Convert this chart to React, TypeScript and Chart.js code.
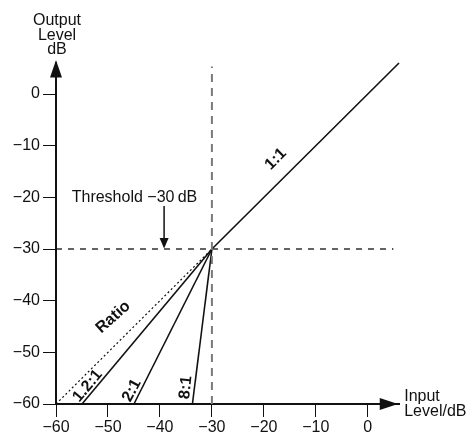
import React, { useEffect, useRef } from 'react';
import { Chart, registerables } from 'chart.js';

Chart.register(...registerables);

// ---- data ----
const inputTicks = [-60, -50, -40, -30, -20, -10, 0];
const outputTicks = [-60, -50, -40, -30, -20, -10, 0];
const axisMin = -60;
const axisMax = 6;
const thresholdDb = -30;
const unityInput = [-30, 6];
const unityOutput = [-30, 6];
const belowInput = [-60, -30];
const belowOutput = [-60, -30];
const ratioLabels = ['1.2:1', '2:1', '8:1'];
const ratioStartInput = [-55, -45, -33.75];
const ratioStartOutput = [-60, -60, -60];
const guideEnd = [4.9, 5.3];

const FONT = '"Liberation Sans", Arial, Helvetica, sans-serif';

function fmt(v: number): string {
  return v < 0 ? '\u2212' + Math.abs(v) : String(v);
}

const annotationPlugin = {
  id: 'annot',
  afterDraw(chart: any) {
    const ctx = chart.ctx as CanvasRenderingContext2D;
    const xs = chart.scales.x;
    const ys = chart.scales.y;
    const px = (v: number) => xs.getPixelForValue(v);
    const py = (v: number) => ys.getPixelForValue(v);
    ctx.save();
    ctx.fillStyle = '#111';
    ctx.strokeStyle = '#111';

    // axis arrowheads
    const ax0 = px(axisMin);
    const ay0 = py(axisMin);
    ctx.beginPath();
    ctx.moveTo(ax0, py(6.6));
    ctx.lineTo(ax0 - 6, py(3.2));
    ctx.lineTo(ax0 + 6, py(3.2));
    ctx.closePath();
    ctx.fill();
    ctx.beginPath();
    ctx.moveTo(px(5.8), ay0);
    ctx.lineTo(px(2.3), ay0 - 6);
    ctx.lineTo(px(2.3), ay0 + 6);
    ctx.closePath();
    ctx.fill();

    // axis titles
    ctx.font = `16px ${FONT}`;
    ctx.textAlign = 'center';
    ctx.textBaseline = 'alphabetic';
    ctx.fillText('Output', ax0 + 1, 25);
    ctx.fillText('Level', ax0 + 1, 39.5);
    ctx.fillText('dB', ax0 + 1, 53.5);
    ctx.textAlign = 'left';
    ctx.fillText('Input', px(7), 401);
    ctx.fillText('Level/dB', px(7), 416);

    // threshold text + arrow
    ctx.textAlign = 'center';
    ctx.textBaseline = 'middle';
    ctx.fillText('Threshold \u221230\u2009dB', px(-44.9), py(-20));
    const axx = px(-39.2);
    ctx.lineWidth = 1.5;
    ctx.beginPath();
    ctx.moveTo(axx, py(-21.7));
    ctx.lineTo(axx, py(thresholdDb) - 8);
    ctx.stroke();
    ctx.beginPath();
    ctx.moveTo(axx, py(thresholdDb) - 0.5);
    ctx.lineTo(axx - 4.5, py(thresholdDb) - 11);
    ctx.lineTo(axx + 4.5, py(thresholdDb) - 11);
    ctx.closePath();
    ctx.fill();

    // rotated bold labels
    const rot = (text: string, x: number, y: number, deg: number) => {
      ctx.save();
      ctx.translate(px(x), py(y));
      ctx.rotate((deg * Math.PI) / 180);
      ctx.font = `bold 16px ${FONT}`;
      ctx.textAlign = 'center';
      ctx.textBaseline = 'middle';
      ctx.fillText(text, 0, 0);
      ctx.restore();
    };
    rot('1:1', -17.7, -12.6, -45);
    rot('Ratio', -49, -43.2, -42);
    rot(ratioLabels[0], -53.9, -56.5, -50);
    rot(ratioLabels[1], -45.4, -57.4, -62);
    rot(ratioLabels[2], -35.0, -56.8, -84);
    ctx.restore();
  },
};

const line = (pts: { x: number; y: number }[], extra: any = {}) => ({
  data: pts,
  showLine: true,
  pointRadius: 0,
  borderColor: '#111',
  borderWidth: 1.6,
  tension: 0,
  clip: false,
  ...extra,
});

export default function App() {
  const ref = useRef<HTMLCanvasElement | null>(null);
  useEffect(() => {
    if (!ref.current) return;
    const datasets: any[] = [
      line([
        { x: thresholdDb, y: axisMin },
        { x: thresholdDb, y: guideEnd[1] },
      ], { borderColor: '#7a7a7a', borderWidth: 2, borderDash: [8, 6] }),
      line([
        { x: axisMin, y: thresholdDb },
        { x: guideEnd[0], y: thresholdDb },
      ], { borderWidth: 1.3, borderDash: [6, 6] }),
      line([
        { x: belowInput[0], y: belowOutput[0] },
        { x: belowInput[1], y: belowOutput[1] },
      ], { borderWidth: 1.2, borderDash: [2, 2.5] }),
      line([
        { x: unityInput[0], y: unityOutput[0] },
        { x: unityInput[1], y: unityOutput[1] },
      ]),
      ...ratioStartInput.map((x, i) =>
        line([
          { x, y: ratioStartOutput[i] },
          { x: thresholdDb, y: thresholdDb },
        ])
      ),
    ];
    const chart = new Chart(ref.current, {
      type: 'scatter',
      data: { datasets },
      options: {
        animation: false,
        responsive: false,
        layout: { padding: { top: 63, right: 74, left: 0, bottom: 0 } },
        plugins: { legend: { display: false }, tooltip: { enabled: false } },
        scales: {
          x: {
            type: 'linear',
            position: 'bottom',
            min: axisMin,
            max: axisMax,
            afterBuildTicks: (s: any) => {
              s.ticks = inputTicks.map((v) => ({ value: v }));
            },
            afterFit: (s: any) => {
              s.height = 29;
            },
            grid: {
              drawOnChartArea: false,
              drawTicks: true,
              tickLength: 13,
              color: '#111',
              lineWidth: 1,
            },
            border: { display: true, color: '#111', width: 2 },
            ticks: {
              padding: 1,
              autoSkip: false,
              maxRotation: 0,
              color: '#111',
              font: { family: FONT, size: 16 },
              callback: (v: any) => fmt(Number(v)),
            },
          },
          y: {
            type: 'linear',
            position: 'left',
            min: axisMin,
            max: axisMax,
            afterBuildTicks: (s: any) => {
              s.ticks = outputTicks.map((v) => ({ value: v }));
            },
            afterFit: (s: any) => {
              s.width = 56;
            },
            grid: {
              drawOnChartArea: false,
              drawTicks: true,
              tickLength: 13,
              color: '#111',
              lineWidth: 1,
            },
            border: { display: true, color: '#111', width: 2 },
            ticks: {
              padding: 3,
              autoSkip: false,
              color: '#111',
              font: { family: FONT, size: 16 },
              callback: (v: any) => fmt(Number(v)),
            },
          },
        },
      },
      plugins: [annotationPlugin],
    });
    return () => chart.destroy();
  }, []);
  return (
    <div style={{ position: 'fixed', left: 0, top: 0, width: 473, height: 433, background: '#fff' }}>
      <canvas ref={ref} width={473} height={433} style={{ display: 'block' }} />
    </div>
  );
}
